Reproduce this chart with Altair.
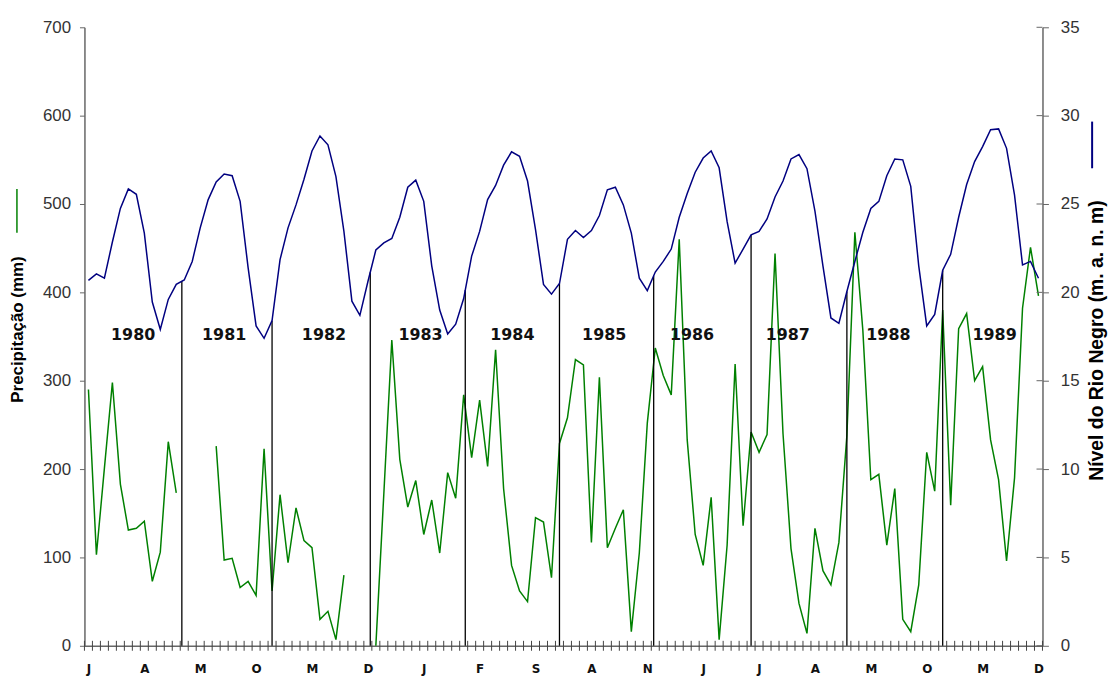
import altair as alt
import pandas as pd
import numpy as np

# ---- data (Jan 1980 .. Dec 1989, monthly) ----
month_initials = ["J", "F", "M", "A", "M", "J", "J", "A", "S", "O", "N", "D"]
year_names = [str(y) for y in range(1980, 1990)]

precip = [
    290, 103, 201, 298, 183, 131, 133, 141, 73, 106, 231, 173,
    None, None, None, None, 226, 97, 99, 66, 73, 57, 223, 62,
    171, 94, 156, 119, 111, 30, 39, 7, 80, None, None, None,
    0, 172, 346, 211, 157, 187, 126, 165, 105, 196, 167, 284,
    213, 278, 203, 335, 178, 91, 62, 50, 145, 140, 77, 229,
    258, 324, 318, 117, 304, 111, 133, 154, 16, 105, 252, 337,
    306, 284, 460, 233, 126, 91, 168, 7, 114, 319, 136, 242,
    219, 239, 444, 240, 110, 48, 14, 133, 85, 69, 117, 238,
    468, 357, 188, 194, 114, 178, 30, 16, 69, 219, 175, 380,
    159, 359, 376, 300, 316, 233, 188, 96, 190, 382, 451, 396,
]

nivel = [
    20.68, 21.05, 20.80, 22.85, 24.75, 25.85, 25.55, 23.35, 19.45, 17.90, 19.60, 20.45,
    20.70, 21.75, 23.65, 25.25, 26.25, 26.70, 26.60, 25.15, 21.40, 18.10, 17.40, 18.40,
    21.85, 23.65, 24.95, 26.40, 28.00, 28.85, 28.35, 26.55, 23.45, 19.50, 18.70, 20.60,
    22.40, 22.80, 23.05, 24.25, 25.95, 26.35, 25.15, 21.50, 19.00, 17.65, 18.20, 19.65,
    22.05, 23.45, 25.25, 26.05, 27.20, 27.95, 27.70, 26.30, 23.55, 20.45, 19.90, 20.50,
    23.00, 23.50, 23.10, 23.50, 24.35, 25.80, 25.95, 24.95, 23.35, 20.80, 20.10, 21.15,
    21.75, 22.45, 24.25, 25.60, 26.80, 27.60, 28.00, 27.05, 24.00, 21.65, 22.45, 23.25,
    23.45, 24.15, 25.40, 26.30, 27.55, 27.80, 27.00, 24.60, 21.50, 18.55, 18.25, 20.05,
    21.75, 23.40, 24.75, 25.15, 26.60, 27.55, 27.50, 26.00, 21.50, 18.10, 18.75, 21.25,
    22.15, 24.25, 26.10, 27.40, 28.25, 29.20, 29.25, 28.15, 25.50, 21.55, 21.75, 20.80,
]

# year separators (month index) and year label positions (month index)
sep_x = [11.7, 23.0, 35.3, 47.2, 59.0, 70.8, 83.0, 95.0, 107.0]
year_label_x = [5.6, 17.0, 29.5, 41.6, 53.1, 64.6, 75.6, 87.6, 100.2, 113.5]
year_label_mm = 352

left_ticks = list(range(0, 701, 100))
right_ticks = list(range(0, 36, 5))
label_idx = list(range(0, 120, 7))

# ---- layout ----
W, H = 965, 623
GREEN = "#008000"
NAVY = "#000080"
AXIS = "#666666"

idx = list(range(len(nivel)))
df = pd.DataFrame({"i": idx, "precip": precip, "nivel": nivel})
df["seg"] = df["precip"].isna().cumsum()
green_df = df.dropna(subset=["precip"])

xs = alt.Scale(domain=[-0.5, 119.5], nice=False, zero=False)
yl = alt.Scale(domain=[0, 700], nice=False)
yr = alt.Scale(domain=[0, 35], nice=False)

label_arr = "[" + ",".join("'%s'" % month_initials[i % 12] for i in label_idx) + "]"

x_axis = alt.Axis(
    values=label_idx, labelExpr=label_arr + "[round(datum.value/7)]",
    ticks=False, grid=False, domainColor=AXIS, domainWidth=1.5,
    labelFont="DejaVu Sans", labelFontWeight="bold", labelFontSize=12,
    labelColor="#111", labelPadding=18, title=None, labelAngle=0,
)

yl_axis = alt.Axis(
    values=left_ticks, grid=False, tickSize=5, tickColor=AXIS, domainColor=AXIS,
    domainWidth=1.5, labelFont="Liberation Sans", labelFontSize=17, labelColor="#333",
    labelPadding=9, title="Precipitação (mm)", titleFont="Liberation Sans",
    titleFontSize=17, titleFontWeight="bold", titleColor="#000",
    titleAngle=270, titleAlign="center", titleBaseline="middle",
    titleX=-67, titleY=304,
)

yr_axis = alt.Axis(
    orient="right", values=right_ticks, grid=False, tickSize=6, tickColor=AXIS,
    domainColor=AXIS, domainWidth=1.5, labelFont="Liberation Sans", labelFontSize=17,
    labelColor="#333", labelPadding=12, title="Nível do Rio Negro (m. a. n. m)",
    titleFont="Liberation Sans", titleFontSize=19.5, titleFontWeight="bold",
    titleColor="#000", titleAngle=270, titleAlign="center", titleBaseline="middle",
    titleX=54, titleY=315,
)

green = alt.Chart(green_df).mark_line(color=GREEN, strokeWidth=1.5).encode(
    x=alt.X("i:Q", scale=xs, axis=x_axis),
    y=alt.Y("precip:Q", scale=yl, axis=yl_axis),
    detail="seg:N",
)

sep_df = pd.DataFrame({"x": sep_x})
sep_df["top"] = np.interp(sep_df["x"], idx, np.array(nivel) * 20.0)
sep_df["bottom"] = 0
seps = alt.Chart(sep_df).mark_rule(color="#000", strokeWidth=1.3).encode(
    x=alt.X("x:Q", scale=xs, axis=x_axis),
    y=alt.Y("bottom:Q", scale=yl, axis=yl_axis),
    y2="top:Q",
)

lab_df = pd.DataFrame({"x": year_label_x, "y": [year_label_mm] * len(year_label_x), "t": year_names})
labels = alt.Chart(lab_df).mark_text(
    font="DejaVu Sans", fontWeight="bold", fontSize=16, color="#111", baseline="middle", align="center"
).encode(
    x=alt.X("x:Q", scale=xs, axis=x_axis),
    y=alt.Y("y:Q", scale=yl, axis=yl_axis),
    text="t:N",
)

bnd_df = pd.DataFrame({"b": [i - 0.5 for i in range(121)]})
xticks = alt.Chart(bnd_df).mark_rule(color="#444", strokeWidth=1).encode(
    x=alt.X("b:Q", scale=xs, axis=x_axis),
    y=alt.value(H - 5), y2=alt.value(H + 5),
)

rt_df = pd.DataFrame({"v": [v * 20 for v in right_ticks]})
rticks_in = alt.Chart(rt_df).mark_rule(color=AXIS, strokeWidth=1).encode(
    y=alt.Y("v:Q", scale=yl, axis=yl_axis),
    x=alt.value(W - 6), x2=alt.value(W),
)

one = pd.DataFrame({"k": [0]})
leg_green = alt.Chart(one).mark_rule(color=GREEN, strokeWidth=1.5).encode(
    x=alt.value(17 - 85), y=alt.value(188 - 25), y2=alt.value(232 - 25))
leg_navy = alt.Chart(one).mark_rule(color=NAVY, strokeWidth=2).encode(
    x=alt.value(1100 - 85), y=alt.value(120 - 25), y2=alt.value(167 - 25))

left_group = alt.layer(green, seps, labels, xticks, rticks_in, leg_green, leg_navy)

blue = alt.Chart(df).mark_line(color=NAVY, strokeWidth=1.5).encode(
    x=alt.X("i:Q", scale=xs, axis=x_axis),
    y=alt.Y("nivel:Q", scale=yr, axis=yr_axis),
)

chart = alt.layer(left_group, blue).resolve_scale(y="independent").properties(
    width=W, height=H,
    autosize=alt.AutoSizeParams(type="none"),
    padding={"left": 77, "top": 17, "right": 67, "bottom": 28},
).configure_view(stroke=None)

chart.save("out.html", embed_options={"renderer": "svg", "actions": False})
